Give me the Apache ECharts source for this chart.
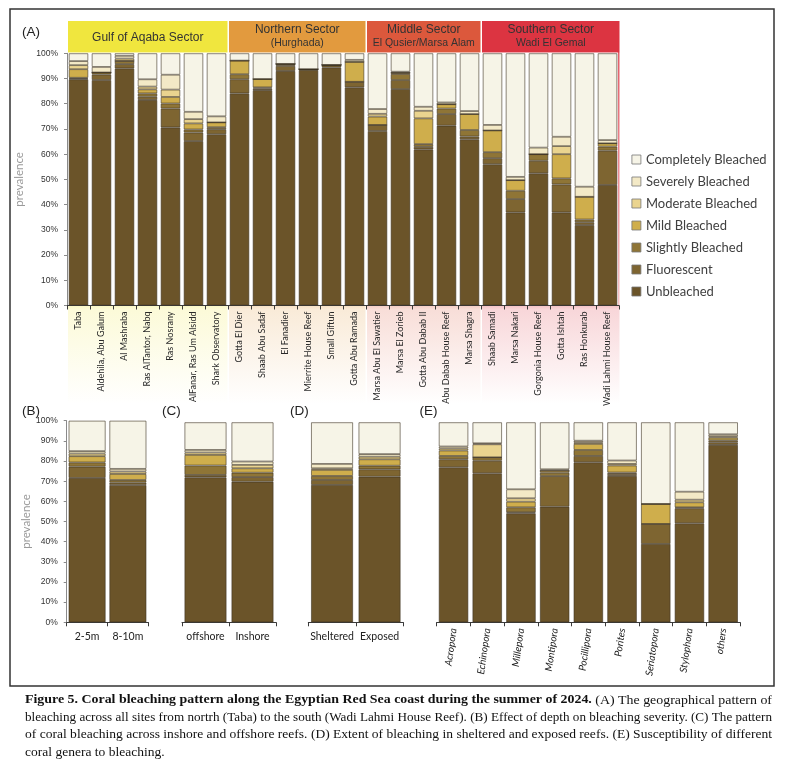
<!DOCTYPE html>
<html><head><meta charset="utf-8">
<script src="https://cdn.jsdelivr.net/npm/echarts@6/dist/echarts.min.js"></script>
<style>html,body{margin:0;padding:0;background:#fff}#c{width:800px;height:762px}</style>
</head><body><div id="c"></div>
<script>
// ---------- categories ----------
const levels = ['Unbleached','Fluorescent','Slightly Bleached','Mild Bleached','Moderate Bleached','Severely Bleached','Completely Bleached'];
const legendOrder = ['Completely Bleached','Severely Bleached','Moderate Bleached','Mild Bleached','Slightly Bleached','Fluorescent','Unbleached'];
const sitesA = ['Taba','Aldehila, Abu Galum','Al Mashraba','Ras AlTantor, Nabq','Ras Nosrany','AlFanar, Ras Um Alsidd','Shark Observatory',
  'Gotta El Dier','Shaab Abu Sadaf','El Fanadier','Mierrite House Reef','Small Giftun','Gotta Abu Ramada',
  'Marsa Abu El Sawatier','Marsa El Zorieb','Gotta Abu Dabab II','Abu Dabab House Reef','Marsa Shagra',
  'Shaab Samadi','Marsa Nakari','Gorgonia House Reef','Gotta Ishtah','Ras Honkurab','Wadi Lahmi House Reef'];
const depthB = ['2-5m','8-10m'];
const reefC = ['offshore','Inshore'];
const exposureD = ['Sheltered','Exposed'];
const generaE = ['Acropora','Echinopora','Millepora','Montipora','Pocillipora','Porites','Seriatopora','Stylophora','others'];
const yTicks = [0,10,20,30,40,50,60,70,80,90,100];
const sectors = [
  {name:'Gulf of Aqaba Sector', sub:'', first:0, count:7},
  {name:'Northern Sector', sub:'(Hurghada)', first:7, count:6},
  {name:'Middle Sector', sub:'El Qusier/Marsa Alam', first:13, count:5},
  {name:'Southern Sector', sub:'Wadi El Gemal', first:18, count:6}
];

// ---------- panel A values (%) ----------
const aUnbleached = [89.7,89.4,94.0,81.5,70.6,65.2,67.9, 84.1,85.4,93.0,93.4,94.4,86.5, 69.2,85.8,61.9,71.3,65.9, 56.0,36.9,52.4,36.9,31.9,47.8];
const aFluorescent = [0.3,2.2,1.7,1.3,7.5,3.4,2.0, 5.6,0.6,2.0,0.3,1.0,2.2, 2.4,3.6,1.0,4.6,1.1, 2.4,5.3,5.0,11.1,1.1,13.6];
const aSlightly = [0.3,0.8,1.3,1.3,2.0,1.2,0.8, 2.0,0.5,0.8,0,0,0, 0,2.4,1.1,2.2,2.6, 2.4,3.3,2.6,2.4,1.1,1.6];
const aMild = [3.4,0,0,1.6,2.6,2.4,1.9, 5.4,3.3,0,0,0,7.9, 3.3,0.5,10.2,1.7,6.3, 8.6,4.2,0,9.6,9.0,1.3];
const aModerate = [1.6,0,0.9,1.1,2.9,1.7,0, 0,0,0,0,0,0, 1.1,0,3.0,0,0, 0,0,0,3.2,0,0];
const aSeverely = [1.6,2.2,1.1,2.9,5.9,2.9,2.4, 0,0,0,0,0,0.8, 1.9,0.4,1.6,0.7,1.2, 2.2,1.3,2.6,3.7,4.0,1.3];
const aCompletely = [3.1,5.4,1.0,10.3,8.5,23.2,25.0, 2.9,10.2,4.2,6.3,4.6,2.6, 22.1,7.3,21.2,19.5,22.9, 28.4,49.0,37.4,33.1,52.9,34.4];

// ---------- panel B (depth) ----------
const bUnbleached = [71.6,68.1];
const bFluorescent = [5.6,1.2];
const bSlightly = [2.1,1.3];
const bMild = [3.1,3.0];
const bModerate = [1.3,1.2];
const bSeverely = [1.2,1.3];
const bCompletely = [15.1,23.9];

// ---------- panel C (offshore / inshore) ----------
const cUnbleached = [72.5,70.3];
const cFluorescent = [1.2,2.3];
const cSlightly = [4.7,2.2];
const cMild = [5.3,2.2];
const cModerate = [1.2,1.7];
const cSeverely = [1.3,1.7];
const cCompletely = [13.8,19.6];

// ---------- panel D (sheltered / exposed) ----------
const dUnbleached = [68.7,72.8];
const dFluorescent = [2.5,3.7];
const dSlightly = [2.0,1.8];
const dMild = [3.0,3.2];
const dModerate = [0.8,1.3];
const dSeverely = [2.2,1.3];
const dCompletely = [20.8,15.9];

// ---------- panel E (genera) ----------
const eUnbleached = [77.5,74.5,54.5,57.8,80.0,73.2,39.2,49.5,88.7];
const eFluorescent = [4.0,6.3,0.5,15.3,3.2,1.0,10.0,7.5,1.3];
const eSlightly = [1.7,1.7,2.5,1.7,3.0,0.7,0,0.5,1.0];
const eMild = [2.7,0,2.8,1.0,3.0,3.5,10.0,2.5,1.3];
const eModerate = [1.0,6.5,1.7,0,0.8,0.8,0,1.3,0.7];
const eSeverely = [1.0,0.5,4.5,0.7,0.8,1.7,0,4.0,1.0];
const eCompletely = [12.1,10.5,33.5,23.5,9.2,19.1,40.8,34.7,6.0];

// ---------- caption ----------
const captionLines = [
  [['b','Figure 5. Coral bleaching pattern along the Egyptian Red Sea coast during the summer of 2024.'],['n',' (A) The geographical pattern of']],
  [['n','bleaching across all sites from nortrh (Taba) to the south (Wadi Lahmi House Reef). (B) Effect of depth on bleaching severity. (C) The pattern']],
  [['n','of coral bleaching across inshore and offshore reefs. (D) Extent of bleaching in sheltered and exposed reefs. (E) Susceptibility of different']],
  [['n','coral genera to bleaching.']]
];

// ---------- styles ----------
const levelColors = ['#6b5429','#7e6531','#8f7536','#cfae4c','#ead48f','#f3e9c6','#f6f4e7'];
const sectorColors = [[240,230,62],[226,154,62],[220,88,60],[220,52,65]];

const chart = echarts.init(document.getElementById('c'));

function stackSeries(key, vals, idx, barW){
  return levels.map((lv,i)=>({
    name: lv, type:'bar', stack:key, xAxisIndex:idx, yAxisIndex:idx, barWidth:barW,
    data: vals[i], silent:true, animation:false,
    itemStyle:{color:levelColors[i], borderColor:'rgba(62,52,36,0.75)', borderWidth:0.8}
  }));
}
function xAx(idx, data, lab){
  return {type:'category', gridIndex:idx, data:data,
    axisLine:{lineStyle:{color:'#3a3a3a', width:1}},
    axisTick:{show:true, interval:0, length:4, lineStyle:{color:'#3a3a3a'}},
    axisLabel:Object.assign({interval:0, color:'#222', fontFamily:'Lato'}, lab)};
}
function yAx(idx, show){
  return {type:'value', gridIndex:idx, min:yTicks[0], max:yTicks[yTicks.length-1], interval:yTicks[1]-yTicks[0], show:show,
    axisLine:{show:true, lineStyle:{color:'#8a8a8a'}},
    axisTick:{show:true, length:3, lineStyle:{color:'#8a8a8a'}},
    splitLine:{show:false},
    axisLabel:{formatter:'{value}%', fontSize:8.5, fontFamily:'Liberation Sans', color:'#333', margin:9},
    name:'prevalence', nameLocation:'middle', nameGap:24,
    nameTextStyle:{color:'#9a9a9a', fontSize:11.5, fontFamily:'Lato'}};
}

// geometry of panel A
const gA = {left:67, top:53.3, width:552, height:252.2};
const catW = gA.width / sitesA.length;

const graphics = [];
// frame
graphics.push({type:'rect', z:-5, shape:{x:10, y:9, width:764, height:677}, style:{fill:'none', stroke:'#333', lineWidth:1.5}});
// sector backgrounds + headers
sectors.forEach((s,k)=>{
  const c = sectorColors[k];
  const rgba = a => 'rgba('+c[0]+','+c[1]+','+c[2]+','+a+')';
  const x0 = gA.left + s.first*catW + 1;
  const x1 = gA.left + (s.first+s.count)*catW + (k===3?0.5:-0.5);
  const top = 21, bot = 404, H = bot-top;
  const fh = (52-top)/H, fa = (gA.top+gA.height-top)/H;
  graphics.push({type:'rect', z:-4, shape:{x:x0, y:top, width:x1-x0, height:H},
    style:{fill:{type:'linear', x:0, y:0, x2:0, y2:1, colorStops:[
      {offset:0, color:rgba(1)}, {offset:fh, color:rgba(1)}, {offset:fh+0.003, color:rgba(0.8)},
      {offset:fa, color:rgba(0.3)}, {offset:fa+0.01, color:rgba(0.2)}, {offset:1, color:rgba(0)}]}}});
  const cx = (x0+x1)/2;
  if (s.sub) {
    graphics.push({type:'text', z:10, x:cx, y:29.5, style:{text:s.name, fill:'#333', font:'12px "Liberation Sans"', textAlign:'center', textVerticalAlign:'middle'}});
    graphics.push({type:'text', z:10, x:cx, y:43, style:{text:s.sub, fill:'#333', font:'10.5px "Liberation Sans"', textAlign:'center', textVerticalAlign:'middle'}});
  } else {
    graphics.push({type:'text', z:10, x:cx, y:38, style:{text:s.name, fill:'#333', font:'12px "Liberation Sans"', textAlign:'center', textVerticalAlign:'middle'}});
  }
});
// white area behind bars of panel A
graphics.push({type:'rect', z:-3, shape:{x:gA.left+0.5, y:52.5, width:gA.width-1.6, height:gA.top+gA.height-52.5}, style:{fill:'#fff'}});
// panel letters
[['(A)',22,32],['(B)',22,411.5],['(C)',162,411.5],['(D)',290,411.5],['(E)',419.5,411.5]].forEach(p=>{
  graphics.push({type:'text', z:10, x:p[1], y:p[2], style:{text:p[0], fill:'#222', font:'13.5px "Liberation Sans"', textVerticalAlign:'middle'}});
});
// caption with justified lines
const cv = document.createElement('canvas').getContext('2d');
const capSize = 13.5, capLeft = 25, capRight = 772;
const fontOf = t => (t==='b'?'bold ':'') + capSize + 'px "Liberation Serif"';
const widths = captionLines.map(line => line.reduce((s,seg)=>{cv.font = fontOf(seg[0]); return s + cv.measureText(seg[1]).width;},0));
const scales = widths.map(w => (capRight-capLeft)/w);
const avgScale = (scales[0]+scales[1]+scales[2])/3;
captionLines.forEach((line,i)=>{
  const sc = i===captionLines.length-1 ? avgScale : scales[i];
  const text = line.map(seg=>'{'+seg[0]+'|'+seg[1]+'}').join('');
  graphics.push({type:'text', z:10, x:capLeft, y:700 + i*17.4, scaleX:sc, scaleY:1,
    style:{text:text, textVerticalAlign:'middle', fill:'#111',
      rich:{b:{fontWeight:'bold', fontSize:capSize, fontFamily:'Liberation Serif', fill:'#111'},
            n:{fontSize:capSize, fontFamily:'Liberation Serif', fill:'#111'}}}});
});

const option = {
  backgroundColor:'#ffffff',
  animation:false,
  grid:[
    {left:gA.left, top:gA.top, width:gA.width, height:gA.height},
    {left:66.7, top:420.7, width:81.6, height:201.6},
    {left:182, top:422.3, width:94, height:200},
    {left:308.3, top:422.3, width:95, height:200},
    {left:436.7, top:422.3, width:303.3, height:200}
  ],
  xAxis:[
    xAx(0, sitesA, {rotate:90, fontSize:9, margin:6, color:'#2a2a2a'}),
    xAx(1, depthB, {fontSize:10.5, margin:9}),
    xAx(2, reefC, {fontSize:10.5, margin:9}),
    xAx(3, exposureD, {fontSize:10.5, margin:9}),
    xAx(4, generaE, {rotate:82, fontSize:10, margin:6, fontStyle:'italic'})
  ],
  yAxis:[yAx(0,true), yAx(1,true), yAx(2,false), yAx(3,false), yAx(4,false)],
  legend:{data:legendOrder, orient:'vertical', left:631.5, top:152.5, padding:0, itemWidth:9, itemHeight:9, itemGap:8,
    selectedMode:false, icon:'rect',
    itemStyle:{borderColor:'#777', borderWidth:0.8},
    textStyle:{fontFamily:'Lato', fontSize:13, color:'#404040', lineHeight:14}},
  graphic:{elements:graphics},
  series:[].concat(
    stackSeries('A', [aUnbleached,aFluorescent,aSlightly,aMild,aModerate,aSeverely,aCompletely], 0, 19.5),
    stackSeries('B', [bUnbleached,bFluorescent,bSlightly,bMild,bModerate,bSeverely,bCompletely], 1, 37),
    stackSeries('C', [cUnbleached,cFluorescent,cSlightly,cMild,cModerate,cSeverely,cCompletely], 2, 42),
    stackSeries('D', [dUnbleached,dFluorescent,dSlightly,dMild,dModerate,dSeverely,dCompletely], 3, 42),
    stackSeries('E', [eUnbleached,eFluorescent,eSlightly,eMild,eModerate,eSeverely,eCompletely], 4, 29.5)
  )
};
chart.setOption(option);
</script></body></html>
